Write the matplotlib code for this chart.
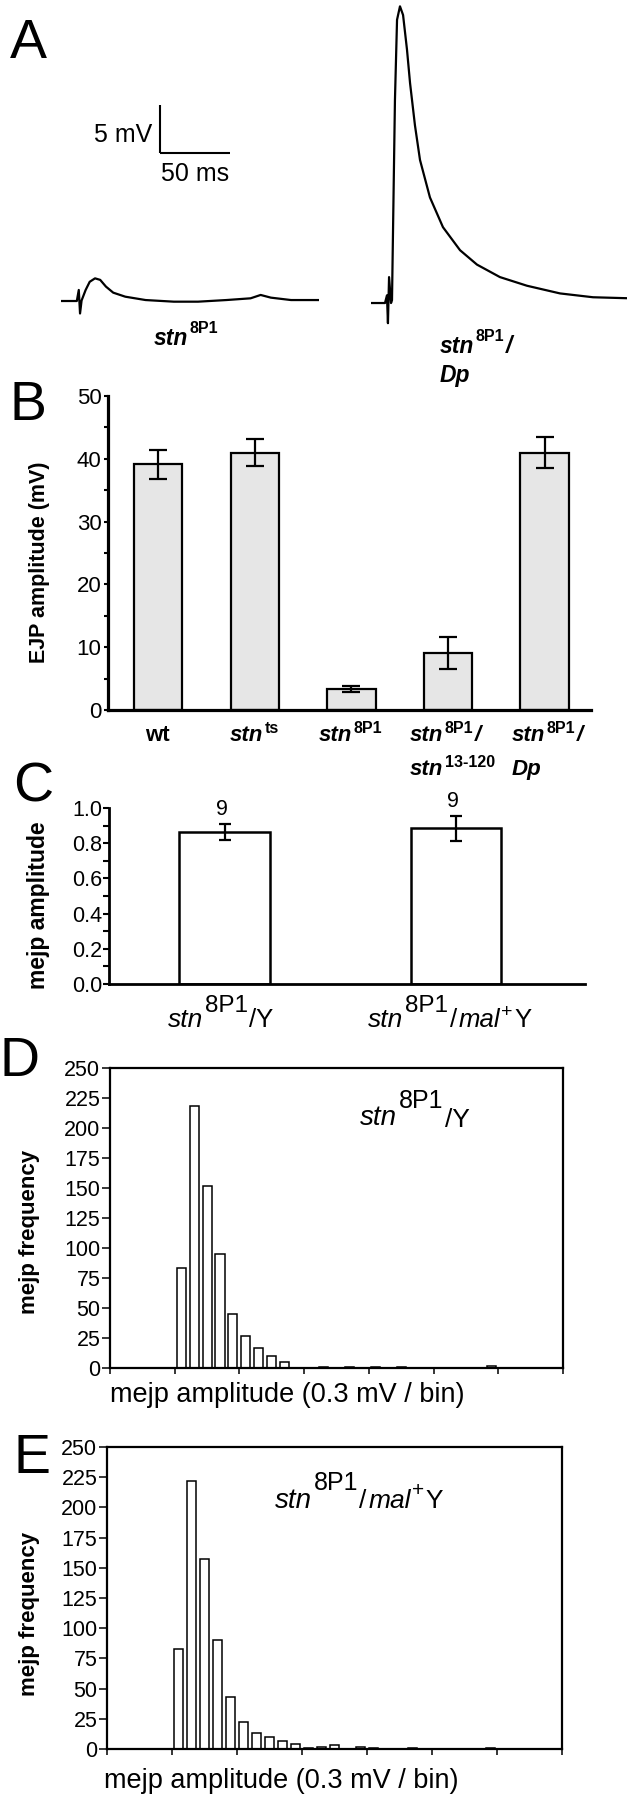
import numpy as np
import matplotlib
matplotlib.use('Agg')
import matplotlib.pyplot as plt
from matplotlib.transforms import IdentityTransform
from matplotlib.ticker import MultipleLocator, FormatStrFormatter

plt.rcParams['font.family'] = ['Liberation Sans', 'DejaVu Sans']

W, H = 633, 1800

# ---------------- data ----------------
# A: traces (time in ms, potential in mV)
t_8p1 = [0, 11.3, 12.7, 13.6, 14.7, 17.6, 20.5, 24.3, 28.0, 32.1, 37.3, 45.9, 60.4,
         80.6, 97.9, 118.1, 135.4, 142.6, 149.9, 164.3, 184.5]
v_8p1 = [0, 0, 1.15, -1.3, 0.05, 1.15, 2.0, 2.36, 2.2, 1.5, 0.87, 0.45, 0.1,
         -0.07, -0.07, 0.1, 0.28, 0.63, 0.35, 0.1, 0.1]
t_dp = [0, 10.0, 11.4, 12.1, 12.9, 14.3, 15.0, 17.1, 18.6, 20.7, 22.9, 25.7, 27.9,
        31.4, 35.0, 42.1, 51.4, 63.6, 75.7, 92.1, 111.4, 135.0, 158.6, 182.9]
v_dp = [0, 0, 0.8, -2.1, 2.7, 0.0, 0.3, 21.1, 29.5, 30.9, 30.0, 26.4, 22.9,
        18.5, 14.9, 11.0, 7.9, 5.5, 4.0, 2.7, 1.8, 1.0, 0.6, 0.5]
scale_ms = 50
scale_mv = 5

# B: EJP amplitude (mV)
b_labels = [[('wt', '', '')],
            [('stn', 'ts', '')],
            [('stn', '8P1', '')],
            [('stn', '8P1', '/'), ('stn', '13-120', '')],
            [('stn', '8P1', '/'), ('Dp', '', '')]]
ejp_mean = [39.1, 41.0, 3.3, 9.1, 41.0]
ejp_err = [2.3, 2.2, 0.5, 2.5, 2.5]

# C: mejp amplitude
c_labels = ['stn8P1/Y', 'stn8P1/mal+Y']
mejp_mean = [0.865, 0.885]
mejp_err = [0.045, 0.07]
mejp_n = [9, 9]

# D, E: mejp amplitude histograms (0.3 mV bins)
freq_y = [0, 0, 0, 0, 0, 83, 218, 152, 95, 45, 27, 17, 10, 5, 0, 0, 1, 0, 1, 0,
          1, 0, 1, 0, 0, 0, 0, 0, 0, 2, 0, 0, 0, 0, 0]
freq_mal = [0, 0, 0, 0, 0, 83, 222, 157, 90, 43, 22, 13, 10, 7, 4, 1, 2, 3, 0, 2,
            1, 0, 0, 1, 0, 0, 0, 0, 0, 1, 0, 0, 0, 0, 0]

fig = plt.figure(figsize=(W / 100, H / 100), dpi=100)
fig.patch.set_facecolor('white')
rend = fig.canvas.get_renderer()

BI = dict(fontweight='bold', fontstyle='italic')
BB = dict(fontweight='bold')
IT = dict(fontstyle='italic')
RG = {}


def add_ax(l, t, r, b):
    return fig.add_axes([l / W, 1 - b / H, (r - l) / W, (b - t) / H])


def rich(x, y, parts, ha='left'):
    # x in px from left, y = baseline in px from top
    arts = []
    cx = x
    for s, size, kw, dy in parts:
        t = fig.text(cx, H - y + dy, s, fontsize=size, va='baseline', ha='left',
                     transform=IdentityTransform(), **kw)
        cx += t.get_window_extent(rend).width + 1.5
        arts.append(t)
    if ha == 'center':
        shift = (cx - x) / 2
        for t in arts:
            t.set_x(t.get_position()[0] - shift)


def letter(x, y, s):
    fig.text(x / W, 1 - y / H, s, fontsize=40, va='baseline', ha='left')


# ---------------- A ----------------
axL = add_ax(61, 0, 61 + 184.5 * 1.4, 330)
axL.plot(t_8p1, v_8p1, color='black', lw=1.6)
axL.set_xlim(0, 184.5)
axL.set_ylim(-3.02, 31.35)
axL.axis('off')
x0, y0 = 70.7, 15.4
axL.plot([x0, x0 + scale_ms], [y0, y0], color='black', lw=1.5, solid_capstyle='butt')
axL.plot([x0, x0], [y0, y0 + scale_mv], color='black', lw=1.5, solid_capstyle='butt')
axL.text(x0 - 5.5, y0 + 1.2, '%d mV' % scale_mv, fontsize=18, ha='right', va='baseline')
axL.text(x0 + 0.5, y0 - 2.9, '%d ms' % scale_ms, fontsize=18, ha='left', va='baseline')

axR = add_ax(371, 0, 371 + 182.9 * 1.4, 330)
axR.plot(t_dp, v_dp, color='black', lw=1.6)
axR.set_xlim(0, 182.9)
axR.set_ylim(-2.81, 31.56)
axR.axis('off')

rich(187, 345, [('stn', 16.5, BI, 0), ('8P1', 11.5, BB, 12)], ha='center')
rich(440, 353, [('stn', 16.5, BI, 0), ('8P1', 11.5, BB, 12), ('/', 16.5, BI, 0)])
rich(440, 382, [('Dp', 16.5, BI, 0)])
letter(10, 58, 'A')

# ---------------- B ----------------
axB = add_ax(108, 396, 591, 710)
xb = np.arange(len(ejp_mean))
axB.bar(xb, ejp_mean, width=0.5, color='#e6e6e6', edgecolor='black', linewidth=1.6, zorder=2)
axB.errorbar(xb, ejp_mean, yerr=ejp_err, fmt='none', ecolor='black', elinewidth=1.6,
             capsize=6.5, capthick=1.6, zorder=3)
axB.set_xlim(-0.52, 4.48)
axB.set_ylim(0, 50)
axB.yaxis.set_major_locator(MultipleLocator(10))
axB.yaxis.set_minor_locator(MultipleLocator(5))
axB.tick_params(axis='y', which='both', direction='out', length=3.2, width=1.5, pad=1.5, labelsize=16)
axB.tick_params(axis='x', length=0, labelbottom=False)
for s in ['top', 'right']:
    axB.spines[s].set_visible(False)
for s in ['left', 'bottom']:
    axB.spines[s].set_linewidth(2.3)
axB.set_ylabel('EJP amplitude (mV)', fontsize=15.5, fontweight='bold')
axB.yaxis.set_label_coords(-0.12, 0.47)

for i, lines in enumerate(b_labels):
    cx = axB.transData.transform((xb[i], 0))[0]
    if len(lines) == 1:
        base, sup, tail = lines[0]
        kw = BB if base == 'wt' else BI
        parts = [(base, 16, kw, 0)]
        if sup:
            parts.append((sup, 11.5, BB, 8))
        rich(cx, 741, parts, ha='center')
    else:
        left = cx - 38 if i == 3 else cx - 33
        for j, (base, sup, tail) in enumerate(lines):
            parts = [(base, 16, BI, 0)]
            if sup:
                parts.append((sup, 11.5, BB, 8))
            if tail:
                parts.append((tail, 16, BI, 0))
            rich(left, 741 + 34 * j, parts)
letter(10, 420, 'B')

# ---------------- C ----------------
axC = add_ax(109, 808, 585, 984)
xc = np.arange(len(mejp_mean))
axC.bar(xc, mejp_mean, width=0.39, color='white', edgecolor='black', linewidth=1.8, zorder=2)
axC.errorbar(xc, mejp_mean, yerr=mejp_err, fmt='none', ecolor='black', elinewidth=1.6,
             capsize=4.3, capthick=1.6, zorder=3)
for i in range(len(xc)):
    axC.annotate(str(mejp_n[i]), (xc[i], mejp_mean[i] + mejp_err[i]), xytext=(-2, 6.5),
                 textcoords='offset points', ha='center', va='baseline', fontsize=15.5)
axC.set_xlim(-0.5, 1.56)
axC.set_ylim(0, 1.0)
axC.yaxis.set_major_locator(MultipleLocator(0.2))
axC.yaxis.set_minor_locator(MultipleLocator(0.1))
axC.yaxis.set_major_formatter(FormatStrFormatter('%.1f'))
axC.tick_params(axis='y', which='both', direction='out', length=4.5, width=1.5, pad=0.5, labelsize=15.5)
axC.tick_params(axis='x', length=0, labelbottom=False)
for s in ['top', 'right']:
    axC.spines[s].set_visible(False)
for s in ['left', 'bottom']:
    axC.spines[s].set_linewidth(2.0)
axC.set_ylabel('mejp amplitude', fontsize=16.5, fontweight='bold')
axC.yaxis.set_label_coords(-0.124, 0.45)

cx0 = axC.transData.transform((xc[0], 0))[0]
cx1 = axC.transData.transform((xc[1], 0))[0]
rich(cx0 - 3, 1027, [('stn', 19, IT, 0), ('8P1', 17.5, RG, 15), ('/Y', 18.5, RG, 0)], ha='center')
rich(cx1 - 5, 1027, [('stn', 19, IT, 0), ('8P1', 17.5, RG, 15), ('/', 18.5, RG, 0),
                     ('mal', 18.5, IT, 0), ('+', 14, RG, 10), ('Y', 18.5, RG, 0)], ha='center')
letter(13, 802, 'C')


# ---------------- D, E ----------------
def hist_panel(ax, freq):
    xh = np.arange(len(freq)) + 0.5
    ax.bar(xh, freq, width=0.7, color='white', edgecolor='black', linewidth=1.1, zorder=2)
    ax.set_xlim(0, len(freq))
    ax.set_ylim(0, 250)
    ax.set_xticks(np.arange(0, len(freq) + 1, 5))
    ax.yaxis.set_major_locator(MultipleLocator(25))
    ax.tick_params(axis='x', direction='out', length=4.5, width=1.1, labelbottom=False)
    ax.tick_params(axis='y', direction='out', length=5.5, width=1.1, pad=1.5, labelsize=15.5)
    for s in ax.spines.values():
        s.set_linewidth(1.6)
    ax.set_ylabel('mejp frequency', fontsize=16, fontweight='bold')
    ax.set_xlabel('mejp amplitude (0.3 mV / bin)', fontsize=19.5, loc='left')


axD = add_ax(110, 1068, 563, 1368)
hist_panel(axD, freq_y)
axD.yaxis.set_label_coords(-0.155, 0.453)
axD.xaxis.set_label_coords(0.0, -0.045)
px, py = axD.transAxes.transform((0.552, 0.81))
rich(px, H - py, [('stn', 20, IT, 0), ('8P1', 18, RG, 17), ('/Y', 19, RG, -2)])
letter(0, 1076, 'D')

axE = add_ax(107, 1447, 562, 1749)
hist_panel(axE, freq_mal)
axE.yaxis.set_label_coords(-0.147, 0.447)
axE.xaxis.set_label_coords(-0.007, -0.062)
px, py = axE.transAxes.transform((0.369, 0.798))
rich(px, H - py, [('stn', 20, IT, 0), ('8P1', 18, RG, 18), ('/', 19, RG, 0), ('mal', 19, IT, 0),
                  ('+', 15, RG, 12), ('Y', 19, RG, 0)])
letter(14, 1473, 'E')

fig.savefig('out.png', dpi=100)
